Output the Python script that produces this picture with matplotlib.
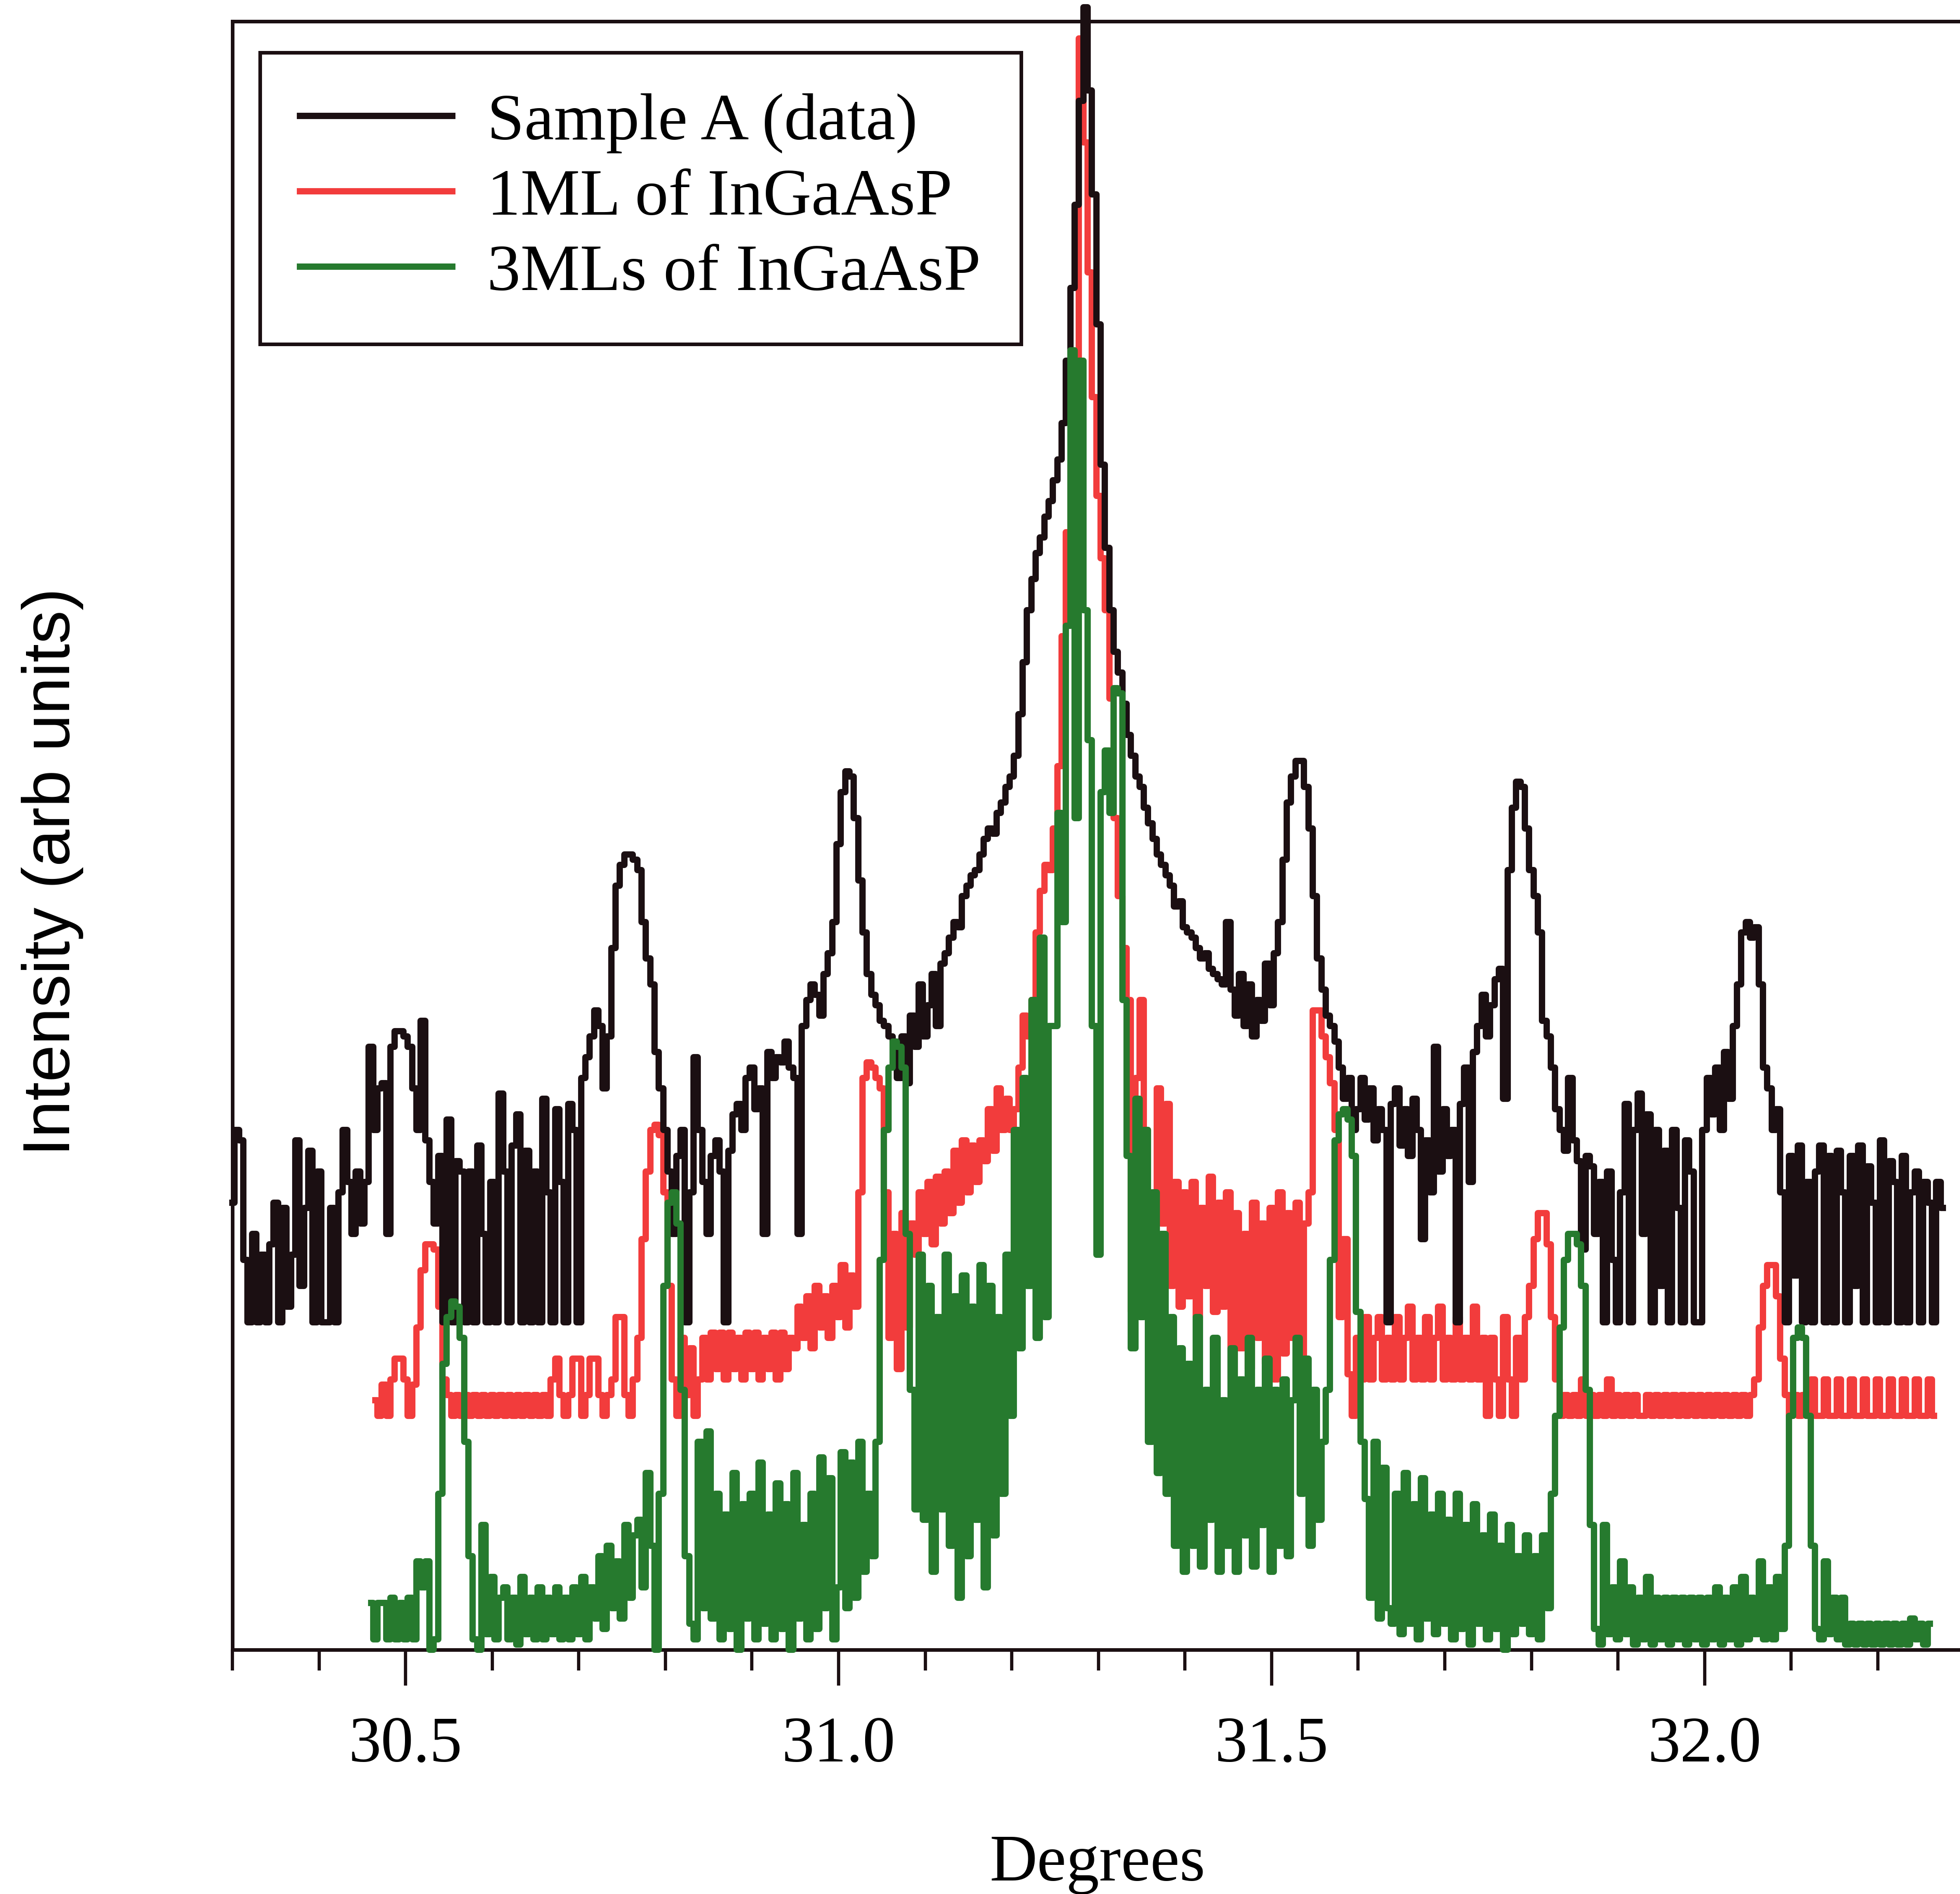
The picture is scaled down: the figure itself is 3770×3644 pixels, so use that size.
import numpy as np
import matplotlib.pyplot as plt

plt.rcParams['font.family'] = ['Liberation Serif', 'DejaVu Serif']

# scan step of the diffractometer (degrees)
step = 0.005

# Sample A (data), first point at 30.300 deg
start_a = 30.300
sample_a = [
    86, 100, 98, 75, 63, 80, 63, 76, 63, 78,
    86, 63, 85, 66, 76, 98, 70, 85, 96, 63,
    92, 63, 63, 85, 63, 88, 100, 90, 80, 92,
    82, 90, 116, 100, 108, 109, 80, 116, 119, 119,
    118, 116, 108, 100, 121, 98, 90, 82, 95, 63,
    102, 63, 94, 92, 63, 92, 63, 97, 80, 63,
    90, 63, 107, 92, 63, 97, 103, 63, 96, 63,
    92, 63, 106, 88, 63, 104, 90, 63, 105, 100,
    63, 110, 114, 118, 123, 120, 108, 118, 135, 147,
    151, 153, 153, 152, 150, 140, 133, 128, 115, 108,
    100, 92, 80, 95, 100, 63, 88, 114, 100, 90,
    80, 95, 98, 92, 63, 96, 103, 105, 100, 110,
    112, 104, 108, 80, 115, 110, 114, 113, 117, 112,
    110, 80, 120, 125, 128, 126, 122, 130, 134, 140,
    155, 165, 169, 168, 160, 148, 138, 130, 126, 124,
    121, 120, 118, 117, 110, 118, 109, 122, 116, 128,
    118, 124, 130, 120, 132, 134, 137, 140, 139, 145,
    147, 149, 150, 153, 156, 158, 157, 161, 163, 166,
    168, 172, 180, 190, 200, 206, 211, 214, 218, 221,
    225, 229, 236, 248, 262, 278, 298, 316, 300, 280,
    255, 228, 212, 200, 192, 188, 182, 176, 172, 168,
    166, 162, 159, 156, 153, 151, 149, 147, 143, 144,
    139, 138, 137, 135, 133, 134, 131, 130, 129, 128,
    140, 127, 122, 130, 120, 128, 118, 125, 121, 132,
    124, 134, 140, 152, 163, 168, 171, 171, 166, 158,
    145, 133, 127, 122, 120, 117, 112, 106, 110, 100,
    104, 110, 102, 108, 98, 104, 100, 63, 105, 108,
    97, 104, 95, 106, 100, 79, 98, 88, 116, 92,
    104, 95, 100, 63, 105, 112, 90, 115, 120, 126,
    118, 124, 129, 131, 106, 150, 162, 167, 166, 158,
    150, 145, 138, 121, 118, 112, 104, 100, 96, 110,
    98, 94, 77, 95, 93, 80, 90, 63, 92, 75,
    63, 88, 105, 63, 100, 107, 80, 103, 63, 100,
    70, 96, 63, 100, 85, 63, 98, 92, 63, 63,
    100, 110, 103, 112, 100, 115, 106, 120, 128, 138,
    140, 137, 139, 128, 112, 108, 100, 104, 88, 63,
    95, 72, 97, 63, 90, 63, 92, 97, 63, 95,
    63, 96, 88, 63, 95, 70, 97, 63, 93, 86,
    63, 98, 63, 94, 90, 63, 95, 63, 88, 92,
    63, 90, 86, 63, 90, 85,
]

# simulation, 1 monolayer of InGaAsP, first point at 30.465 deg
start_1ml = 30.465
one_ml = [
    48, 45, 51, 45, 52, 56, 56,
    52, 45, 51, 62, 73, 78, 78, 77, 66, 52,
    49, 45, 49, 45, 49, 45, 49, 45, 49, 45,
    49, 45, 49, 45, 49, 45, 49, 45, 49, 45,
    49, 45, 49, 45, 52, 56, 49, 45, 49, 56,
    56, 45, 49, 56, 56, 49, 45, 49, 52, 64,
    64, 49, 45, 52, 60, 79, 92, 100, 101, 99,
    88, 70, 52, 45, 60, 49, 58, 45, 52, 60,
    52, 61, 54, 61, 52, 61, 54, 60, 52, 61,
    54, 61, 52, 60, 54, 61, 52, 61, 54, 60,
    58, 66, 60, 68, 58, 70, 62, 68, 60, 70,
    64, 74, 62, 72, 66, 88, 110, 113, 112, 110,
    108, 88, 60, 80, 54, 84, 62, 82, 76, 88,
    80, 90, 78, 91, 82, 92, 84, 96, 86, 98,
    88, 97, 90, 98, 94, 104, 96, 108, 100, 106,
    100, 104, 112, 122, 118, 125, 138, 146, 151, 150,
    158, 170, 195, 215, 228, 238, 310, 290, 265, 241,
    222, 210, 200, 183, 160, 145, 135, 125, 65, 110,
    125, 100, 88, 76, 108, 82, 105, 70, 90, 66,
    88, 68, 90, 64, 85, 70, 91, 65, 86, 66,
    88, 52, 84, 58, 80, 54, 86, 60, 82, 55,
    85, 52, 88, 57, 84, 60, 86, 55, 82, 88,
    123, 123, 118, 114, 109, 100, 64, 79, 53, 45,
    60, 52, 64, 52, 60, 64, 52, 60, 52, 64,
    52, 60, 66, 52, 60, 52, 64, 52, 60, 66,
    52, 60, 52, 64, 52, 60, 52, 66, 52, 60,
    45, 60, 52, 45, 64, 52, 45, 60, 52, 64,
    70, 79, 84, 84, 78, 64, 52, 45, 49, 45,
    49, 45, 52, 45, 49, 45, 49, 45, 52, 45,
    49, 45, 49, 45, 49, 45, 45, 49, 45, 49,
    45, 49, 45, 49, 45, 49, 45, 49, 45, 49,
    45, 49, 45, 49, 45, 49, 45, 49, 45, 49,
    45, 49, 52, 62, 70, 74, 74, 68, 56, 49,
    45, 49, 45, 49, 45, 52, 45, 45, 52, 45,
    45, 52, 45, 45, 52, 45, 45, 52, 45, 45,
    52, 45, 45, 52, 45, 45, 52, 45, 45, 52,
    45, 45, 52, 45,
]

# simulation, 3 monolayers of InGaAsP, first point at 30.460 deg
start_3ml = 30.460
three_ml = [
    9, 2, 9, 9, 2, 10, 2, 9,
    2, 10, 2, 17, 12, 17, 0, 2, 30, 55,
    64, 67, 66, 60, 40, 18, 2, 0, 24, 3,
    14, 2, 10, 12, 2, 10, 1, 14, 3, 10,
    2, 12, 2, 10, 3, 12, 2, 10, 2, 12,
    3, 14, 2, 12, 6, 18, 4, 20, 8, 17,
    6, 24, 10, 22, 25, 12, 34, 20, 0, 30,
    70, 86, 88, 82, 50, 18, 5, 2, 40, 8,
    42, 6, 30, 2, 26, 4, 34, 0, 28, 6,
    30, 2, 36, 5, 26, 2, 32, 4, 28, 0,
    34, 6, 24, 2, 30, 4, 37, 8, 33, 2,
    12, 38, 8, 36, 10, 40, 15, 30, 18, 40,
    75, 100, 112, 117, 116, 112, 80, 50, 27, 76,
    25, 70, 15, 64, 27, 76, 20, 68, 10, 72,
    18, 66, 25, 74, 12, 70, 22, 64, 30, 76,
    45, 100, 58, 110, 70, 125, 60, 137, 64, 120,
    120, 161, 140, 197, 250, 160, 248, 200, 175, 120,
    76, 165, 173, 161, 185, 184, 125, 95, 58, 106,
    64, 100, 40, 88, 34, 80, 30, 64, 20, 58,
    15, 55, 20, 64, 16, 50, 25, 60, 15, 48,
    20, 58, 15, 52, 22, 60, 16, 50, 24, 56,
    15, 50, 20, 52, 18, 48, 60, 30, 56, 20,
    50, 25, 40, 50, 75, 98, 103, 104, 102, 95,
    65, 40, 29, 10, 40, 6, 35, 8, 5, 30,
    3, 34, 5, 28, 2, 33, 6, 26, 3, 30,
    5, 25, 2, 30, 4, 24, 1, 28, 5, 22,
    2, 26, 4, 20, 0, 24, 3, 18, 5, 22,
    3, 18, 2, 22, 8, 30, 45, 62, 75, 80,
    80, 78, 70, 50, 24, 4, 1, 24, 3, 12,
    2, 17, 3, 12, 1, 10, 2, 14, 1, 10,
    2, 10, 1, 10, 2, 10, 1, 10, 2, 10,
    1, 10, 2, 12, 1, 10, 2, 12, 1, 14,
    2, 10, 3, 17, 2, 12, 2, 14, 4, 20,
    45, 60, 62, 60, 45, 20, 4, 2, 17, 3,
    10, 2, 10, 1, 5, 1, 5, 1, 5, 1,
    5, 1, 5, 1, 5, 1, 5, 1, 6, 2,
    5, 1, 5,
]

major_ticks = [30.5, 31.0, 31.5, 32.0]
tick_labels = ['30.5', '31.0', '31.5', '32.0']
minor_ticks = [30.3, 30.4, 30.6, 30.7, 30.8, 30.9, 31.1, 31.2, 31.3,
               31.4, 31.6, 31.7, 31.8, 31.9, 32.1, 32.2]


def scan(start, values):
    return start + step * np.arange(len(values))


ink = '#1b0f12'
fig = plt.figure(figsize=(15.08, 14.576), dpi=250)
ax = fig.add_axes([0.1186, 0.1290, 0.8814, 0.8597])

lw = 3.5
h_a, = ax.plot(scan(start_a, sample_a), sample_a, color=ink, lw=lw,
               drawstyle='steps-mid', zorder=3, clip_on=False,
               label='Sample A (data)')
h_1, = ax.plot(scan(start_1ml, one_ml), one_ml, color='#f23c3c', lw=lw,
               drawstyle='steps-mid', zorder=2, clip_on=False,
               label='1ML of InGaAsP')
h_3, = ax.plot(scan(start_3ml, three_ml), three_ml, color='#267a2e', lw=lw,
               drawstyle='steps-mid', zorder=4, clip_on=False,
               label='3MLs of InGaAsP')

ax.set_xlim(30.30, 32.295)
ax.set_ylim(0, 313.3)
ax.set_yticks([])
ax.set_xticks(major_ticks)
ax.set_xticklabels(tick_labels)
ax.set_xticks(minor_ticks, minor=True)
ax.tick_params(axis='x', which='major', direction='out', length=20,
               width=1.8, pad=17, labelsize=36, color=ink)
ax.tick_params(axis='x', which='minor', direction='out', length=11.5,
               width=1.8, color=ink)

ax.spines['right'].set_visible(False)
for side in ['left', 'bottom', 'top']:
    ax.spines[side].set_linewidth(2)
    ax.spines[side].set_color(ink)

leg = ax.legend(handles=[h_a, h_1, h_3], loc='upper left',
                bbox_to_anchor=(0.016, 0.981), borderaxespad=0,
                fontsize=37, fancybox=False, edgecolor=ink, framealpha=1,
                handlelength=2.28, handletextpad=0.52, borderpad=0.6,
                labelspacing=0.22)
leg.get_frame().set_linewidth(2)
leg.set_zorder(5)

fig.text(0.560, 0.0071, 'Degrees', ha='center', va='baseline', fontsize=36.5)
fig.text(0.0268, 0.5398, 'Intensity (arb units)', rotation=90,
         ha='center', va='center', fontsize=37,
         family=['Liberation Sans', 'DejaVu Sans'])

fig.savefig('out.png', dpi=250, facecolor='white')
